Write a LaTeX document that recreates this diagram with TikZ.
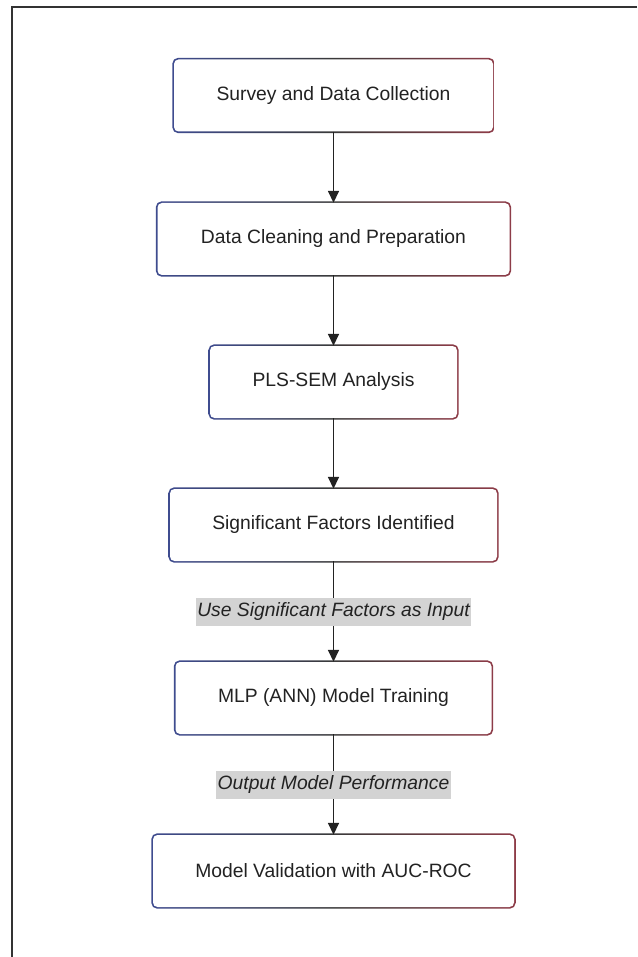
\documentclass[tikz,border=0pt]{standalone}
\usepackage{fontspec}
\setmainfont{Liberation Sans}
\usetikzlibrary{arrows.meta,backgrounds}
\definecolor{bleft}{HTML}{3F4C8F}
\definecolor{bmid}{HTML}{3A3A3A}
\definecolor{bright}{HTML}{8E3C48}
\definecolor{lblgray}{HTML}{D3D3D3}
\definecolor{ink}{HTML}{222222}
\tikzset{
  stepbox/.style={rounded corners=4.5pt, fill=white, minimum height=72pt, inner sep=0pt,
    font=\fontsize{19.3}{23}\selectfont, text=ink},
  lbl/.style={fill=lblgray, inner xsep=1.5pt, inner ysep=0pt, minimum height=28pt,
    font=\fontsize{19.3}{23}\selectfont\itshape, text=ink},
  flow/.style={draw=ink, line width=1.6pt, -{Triangle[width=11pt,length=12pt]}},
}
\newcommand\gframe[1]{\shade[rounded corners=5.5pt,left color=bleft,right color=bright,middle color=bmid]
  ([shift={(-1.4pt,-1.4pt)}]#1.south west) rectangle ([shift={(1.4pt,1.4pt)}]#1.north east);}
\begin{document}
\begin{tikzpicture}[x=1pt,y=-1pt]
\useasboundingbox (0,0) rectangle (637,957);
\draw[line width=1.6pt, black!80] (637,7) -- (12,7) -- (12,957);

\node[stepbox, minimum width=319pt] (b1) at (333.5,95.5) {Survey and Data Collection};
\node[stepbox, minimum width=352pt] (b2) at (333.5,239) {Data Cleaning and Preparation};
\node[stepbox, minimum width=247pt] (b3) at (333.5,382) {PLS-SEM Analysis};
\node[stepbox, minimum width=327pt] (b4) at (333.5,525) {Significant Factors Identified};
\node[stepbox, minimum width=316pt] (b5) at (333.5,698) {MLP (ANN) Model Training};
\node[stepbox, minimum width=361pt] (b6) at (333.5,871) {Model Validation with AUC-ROC};

\begin{scope}[on background layer]
\fill[white] (0,0) rectangle (637,957);
\gframe{b1}\gframe{b2}\gframe{b3}\gframe{b4}\gframe{b5}\gframe{b6}
\end{scope}

\draw[flow] (b1) -- (b2);
\draw[flow] (b2) -- (b3);
\draw[flow] (b3) -- (b4);
\draw[flow] (b4) -- node[lbl] (l1) {Use Significant Factors as Input} (b5);
\draw[flow] (b5) -- node[lbl] (l2) {Output Model Performance} (b6);
\end{tikzpicture}
\end{document}
